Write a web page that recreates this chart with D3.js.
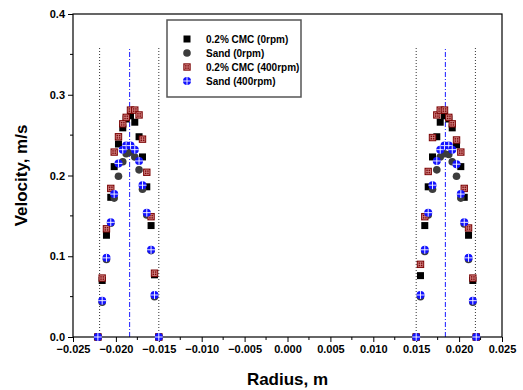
<!DOCTYPE html>
<html>
<head>
<meta charset="utf-8">
<script src="https://cdn.jsdelivr.net/npm/d3@7"></script>
<style>
  body { margin: 0; background: #fff; }
  svg { display: block; font-family: "Liberation Sans", Arial, sans-serif; }
</style>
</head>
<body>
<div id="chart"></div>
<script>
// radial positions (m), left wall to centre side then right side
const radius = [
  -0.0221, -0.0216, -0.0211, -0.0206, -0.0202, -0.0197, -0.0192, -0.0188,
  -0.0183, -0.0178, -0.0173, -0.0169, -0.0164, -0.0159, -0.0155, -0.0150,
   0.0150,  0.0155,  0.0160,  0.0164,  0.0169,  0.0174,  0.0178,  0.0183,
   0.0188,  0.0192,  0.0197,  0.0202,  0.0206,  0.0211,  0.0216,  0.0220
];
// velocities (m/s)
const cmc0 = [
  0, 0.070, 0.126, 0.173, 0.211, 0.239, 0.259, 0.270,
  0.274, 0.266, 0.248, 0.223, 0.186, 0.138, 0.077, 0,
  0, 0.076, 0.138, 0.186, 0.223, 0.248, 0.266, 0.274,
  0.270, 0.259, 0.238, 0.211, 0.173, 0.126, 0.070, 0
];
const sand0 = [
  0, 0.043, 0.096, 0.141, 0.172, 0.199, 0.217, 0.227,
  0.229, 0.223, 0.207, 0.183, 0.151, 0.107, 0.050, 0,
  0, 0.050, 0.106, 0.151, 0.183, 0.207, 0.223, 0.227,
  0.226, 0.217, 0.199, 0.172, 0.140, 0.096, 0.043, 0
];
const cmc400 = [
  0, 0.073, 0.134, 0.184, 0.229, 0.248, 0.264, 0.272,
  0.281, 0.281, 0.275, 0.245, 0.204, 0.149, 0.079, 0,
  0, 0.090, 0.149, 0.205, 0.247, 0.275, 0.281, 0.281,
  0.272, 0.264, 0.244, 0.229, 0.184, 0.135, 0.073, 0
];
const sand400 = [
  0, 0.045, 0.098, 0.142, 0.177, 0.215, 0.232, 0.237,
  0.237, 0.232, 0.218, 0.188, 0.154, 0.108, 0.052, 0,
  0, 0.052, 0.108, 0.154, 0.188, 0.218, 0.232, 0.237,
  0.237, 0.232, 0.214, 0.177, 0.142, 0.098, 0.045, 0
];
const seriesNames = ["0.2% CMC (0rpm)", "Sand (0rpm)", "0.2% CMC (400rpm)", "Sand (400rpm)"];
const dottedLines = [-0.0219, -0.0150, 0.0150, 0.0219];
const centreLines = [-0.0184, 0.0184];
const xTicks = [-0.025, -0.020, -0.015, -0.010, -0.005, 0.000, 0.005, 0.010, 0.015, 0.020, 0.025];
const yTicks = [0.0, 0.1, 0.2, 0.3, 0.4];

const width = 523, height = 390;
const margin = {top: 14, right: 21, bottom: 53, left: 73};
const w = width - margin.left - margin.right;
const h = height - margin.top - margin.bottom;

const svg = d3.select("#chart").append("svg")
    .attr("width", width)
    .attr("height", height);
const g = svg.append("g")
    .attr("transform", "translate(" + margin.left + "," + margin.top + ")");

const x = d3.scaleLinear().domain([-0.025, 0.025]).range([0, w]);
const y = d3.scaleLinear().domain([0, 0.4]).range([h, 0]);

// guide lines
g.selectAll(".dotline").data(dottedLines).enter().append("line")
    .attr("x1", d => x(d)).attr("x2", d => x(d))
    .attr("y1", y(0)).attr("y2", y(0.359))
    .attr("stroke", "#333").attr("stroke-width", 1)
    .attr("stroke-dasharray", "1,2");
g.selectAll(".cline").data(centreLines).enter().append("line")
    .attr("x1", d => x(d)).attr("x2", d => x(d))
    .attr("y1", y(0)).attr("y2", y(0.359))
    .attr("stroke", "#1a1aff").attr("stroke-width", 1)
    .attr("stroke-dasharray", "5,2,1,2");

// axes
const xAxis = d3.axisBottom(x).tickValues(xTicks).tickFormat(d3.format(".3f")).tickSize(5).tickPadding(3);
const yAxis = d3.axisLeft(y).tickValues(yTicks).tickFormat(d3.format(".1f")).tickSize(5).tickPadding(3);

const gx = g.append("g").attr("transform", "translate(0," + h + ")").call(xAxis);
const gy = g.append("g").call(yAxis);
[gx, gy].forEach(a => {
  a.select(".domain").remove();
  a.selectAll("text").attr("font-size", "11px").attr("font-weight", "bold")
      .attr("fill", "#000").attr("font-family", "Liberation Sans, Arial, sans-serif");
  a.selectAll("line").attr("stroke", "#000");
});

// minor ticks
const xMinor = d3.range(-0.0225, 0.025, 0.005);
g.selectAll(".xminor").data(xMinor).enter().append("line")
    .attr("x1", d => x(d)).attr("x2", d => x(d))
    .attr("y1", h).attr("y2", h + 3).attr("stroke", "#000");
const yMinor = [0.05, 0.15, 0.25, 0.35];
g.selectAll(".yminor").data(yMinor).enter().append("line")
    .attr("x1", -3).attr("x2", 0)
    .attr("y1", d => y(d)).attr("y2", d => y(d)).attr("stroke", "#000");

// frame
g.append("rect").attr("width", w).attr("height", h)
    .attr("fill", "none").attr("stroke", "#000").attr("stroke-width", 1.2);

// markers
function drawMarker(sel, type) {
  if (type === 0) {
    sel.append("rect").attr("x", -3.5).attr("y", -3.5).attr("width", 7).attr("height", 7).attr("fill", "#000");
  } else if (type === 1) {
    sel.append("circle").attr("r", 3.8).attr("fill", "#3c3c3c");
  } else if (type === 2) {
    sel.append("rect").attr("x", -3.7).attr("y", -3.7).attr("width", 7.4).attr("height", 7.4).attr("fill", "#7e0808");
    sel.append("path").attr("d", "M-2.3,0H2.3M0,-2.3V2.3M-2.3,-2.3H2.3V2.3H-2.3Z")
        .attr("fill", "none").attr("stroke", "#e09a9a").attr("stroke-width", 0.7);
  } else {
    sel.append("circle").attr("r", 4).attr("fill", "#1212ff");
    sel.append("path").attr("d", "M-4,0H4M0,-4V4")
        .attr("stroke", "#fff").attr("stroke-width", 0.9);
  }
}

const allSeries = [cmc0, sand0, cmc400, sand400];
allSeries.forEach((vals, i) => {
  const pts = radius.map((r, k) => ({r: r, v: vals[k]}));
  g.append("g").selectAll("g").data(pts).enter().append("g")
      .attr("transform", d => "translate(" + x(d.r) + "," + y(d.v) + ")")
      .each(function() { drawMarker(d3.select(this), i); });
});

// legend
const leg = svg.append("g").attr("transform", "translate(167,20)");
leg.append("rect").attr("width", 134).attr("height", 77)
    .attr("fill", "#fff").attr("stroke", "#555").attr("stroke-width", 1.5);
seriesNames.forEach((name, i) => {
  const row = leg.append("g").attr("transform", "translate(20," + (19 + i * 14) + ")");
  drawMarker(row, i);
  row.append("text").attr("x", 19).attr("y", 4)
      .attr("font-size", "10px").attr("font-weight", "bold").text(name);
});

// axis titles
svg.append("text")
    .attr("x", margin.left + w / 2).attr("y", 385)
    .attr("text-anchor", "middle").attr("font-size", "17px").attr("font-weight", "bold")
    .text("Radius, m");
svg.append("text")
    .attr("transform", "translate(27," + (margin.top + h / 2) + ") rotate(-90)")
    .attr("text-anchor", "middle").attr("font-size", "17px").attr("font-weight", "bold")
    .text("Velocity, m/s");
</script>
</body>
</html>
